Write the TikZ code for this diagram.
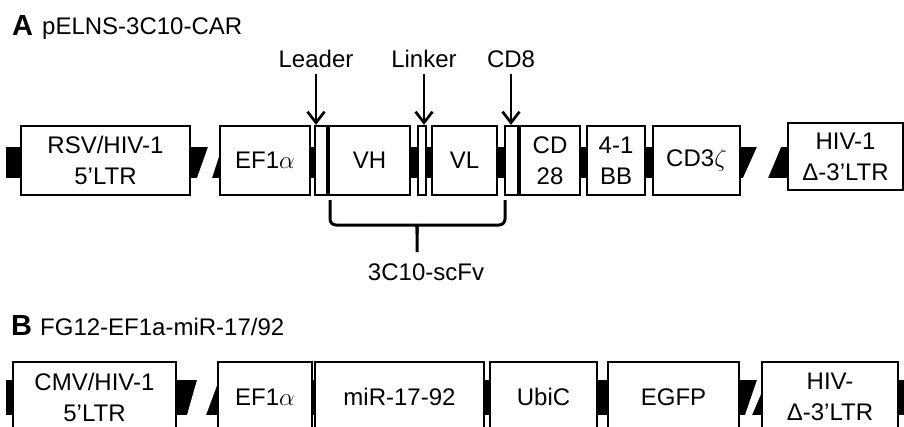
\documentclass[tikz,border=0pt]{standalone}
\usepackage{fontspec}
\setmainfont{Liberation Sans}
\usetikzlibrary{arrows.meta,calc,positioning}
\tikzset{
  every node/.style={font=\fontsize{24}{31}\selectfont, text=black, inner sep=0pt},
  panel/.style={font=\fontsize{24}{31}\selectfont, anchor=base west},
  panelkey/.style={font=\fontsize{29}{34}\selectfont\bfseries, anchor=base west},
  part/.style={draw=black, line width=2.2pt, fill=white, align=center, minimum height=69pt},
  band/.style={fill=black},
  slit/.style={fill=white},
  pointer/.style={-{Straight Barb[length=11pt,width=17pt]}, line width=2.7pt},
  brace/.style={line width=3pt, rounded corners=6pt},
}
\begin{document}
\begin{tikzpicture}[x=1pt,y=-1pt]
  \useasboundingbox (0,0) rectangle (904,426);
  \clip (0,0) rectangle (904,426);
  % Panel A
  \node[panelkey] (keya) at (12,35) {A};
  \node[panel] (namea) at (42,34) {pELNS-3C10-CAR};
  \fill[band] (6,147) rectangle (788,178);
  \fill[slit] (208,147) -- (222,147) -- (212,178) -- (197,178) -- cycle;
  \fill[slit] (757,147) -- (781,147) -- (768,178) -- (743,178) -- cycle;
  \node[part, minimum width=169pt] (rsv) at (105.5,160.5) {RSV/HIV-1\\5’LTR};
  \node[part, minimum width=90pt] (efa) at (265,160.5) {EF1$\alpha$};
  \node[part, minimum width=12pt] (ldr) at (321,160.5) {};
  \node[part, minimum width=81pt] (vh) at (369.5,160.5) {VH};
  \node[part, minimum width=8pt] (lnk) at (422,160.5) {};
  \node[part, minimum width=65pt] (vl) at (464.5,160.5) {VL};
  \node[part, minimum width=13pt] (cdeight) at (511.5,160.5) {};
  \node[part, minimum width=60pt] (cdtwo) at (550,160.5) {CD\\28};
  \node[part, minimum width=58pt] (bb) at (616,160.5) {4-1\\BB};
  \node[part, minimum width=87pt] (zeta) at (696.5,160.5) {CD3$\zeta$};
  \node[part, minimum width=115pt, minimum height=67pt] (hiva) at (845.5,156.5) {HIV-1\\Δ-3’LTR};
  \node (leader) at (316,59) {Leader};
  \node (linker) at (424,59) {Linker};
  \node (cdlbl) at (511,59) {CD8};
  \draw[pointer] ([yshift=-6pt]leader.south) -- (leader.south |- ldr.north);
  \draw[pointer] ([yshift=-6pt]linker.south) -- (linker.south |- lnk.north);
  \draw[pointer] ([yshift=-6pt]cdlbl.south) -- (cdlbl.south |- cdeight.north);
  \draw[brace] (330,200) -- (330,225) -- (410,225) .. controls (417,225) .. (417,234) -- (417,252);
  \draw[brace] (505,200) -- (505,225) -- (424,225) .. controls (417,225) .. (417,234);
  \node (scfv) at (426,272) {3C10-scFv};
  % Panel B
  \node[panelkey] (keyb) at (11,335) {B};
  \node[panel] (nameb) at (40,335) {FG12-EF1a-miR-17/92};
  \fill[band] (6,380) rectangle (904,415);
  \fill[slit] (197,380) -- (219,380) -- (206,415) -- (187,415) -- cycle;
  \fill[slit] (757,380) -- (767,380) -- (752,415) -- (745,415) -- cycle;
  \node[part, minimum width=163pt, minimum height=70pt] (cmv) at (94.5,397) {CMV/HIV-1\\5’LTR};
  \node[part, minimum width=94pt, minimum height=70pt] (efb) at (265,397) {EF1$\alpha$};
  \node[part, minimum width=169pt, minimum height=70pt] (mir) at (399.5,397) {miR-17-92};
  \node[part, minimum width=107pt, minimum height=70pt] (ubic) at (543.5,397) {UbiC};
  \node[part, minimum width=131pt, minimum height=70pt] (egfp) at (673.5,397) {EGFP};
  \node[part, minimum width=136pt, minimum height=70pt] (hivb) at (830,397) {HIV-\\Δ-3’LTR};
\end{tikzpicture}
\end{document}
